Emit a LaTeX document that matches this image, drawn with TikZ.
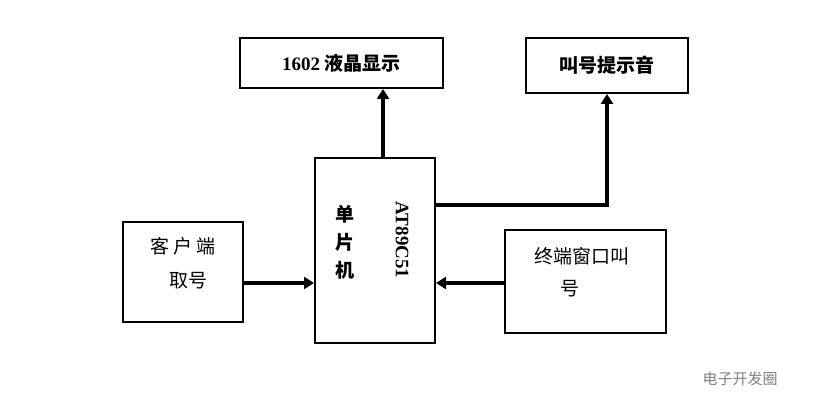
\documentclass[tikz,border=0pt]{standalone}
\usepackage{fontspec}
\setmainfont{Liberation Serif}
\newfontfamily\cjk{Noto Sans CJK SC}
\usetikzlibrary{arrows.meta}
\begin{document}
\begin{tikzpicture}[x=1pt,y=-1pt,
  box/.style={draw,line width=2pt,inner sep=0pt},
  arr/.style={line width=4pt,-{Triangle[length=10pt,width=12pt]}},
  lbl/.style={font=\bfseries\fontsize{19}{22}\selectfont}]
\useasboundingbox (0,0) rectangle (822,414);
\fill[white] (0,0) rectangle (822,414);
\node[box,minimum width=203pt,minimum height=50pt] (lcd) at (341.5,63) {};
\node[lbl] at (341.5,63) {1602 {\cjk 液晶显示}};
\node[box,minimum width=162pt,minimum height=55pt] (snd) at (607,65.5) {};
\node[lbl] at (607,65.5) {\cjk 叫号提示音};
\node[box,minimum width=120pt,minimum height=185pt] (mcu) at (375,250.5) {};
\node[lbl,rotate=-90] at (402,240) {AT89C51};
\node[lbl,align=center,font=\cjk\bfseries\fontsize{19}{28}\selectfont] at (345,242) {单\\片\\机};
\node[box,minimum width=120pt,minimum height=100pt] (cli) at (183,272) {};
\node[lbl,font=\cjk\fontsize{19}{22}\selectfont] at (183,246) {客 户 端};
\node[lbl,font=\cjk\fontsize{19}{22}\selectfont] at (188,281) {取号};
\node[box,minimum width=161pt,minimum height=103pt] (term) at (585.5,281.5) {};
\node[lbl,font=\cjk\fontsize{19}{22}\selectfont] at (582,256) {终端窗口叫};
\node[lbl,font=\cjk\fontsize{19}{22}\selectfont] at (570,289) {号};
\draw[arr] (383,158) -- (lcd.south -| 383,0);
\coordinate (c1) at (607,205);
\draw[arr] (435,205) -- (c1) -- (snd.south);
\draw[arr] (cli.east |- 0,283) -- (mcu.west |- 0,283);
\draw[arr] (term.west |- 0,283) -- (mcu.east |- 0,283);
\node[text=gray,font=\cjk\fontsize{15}{18}\selectfont] (wm) at (740,379) {电子开发圈};
\end{tikzpicture}
\end{document}
